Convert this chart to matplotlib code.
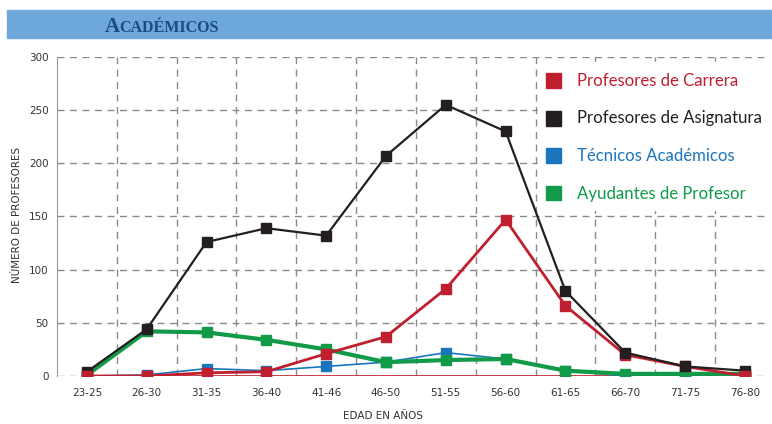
import numpy as np
import matplotlib.pyplot as plt
from matplotlib.patches import Rectangle

# datos
grupos = ["23-25", "26-30", "31-35", "36-40", "41-46", "46-50", "51-55",
          "56-60", "61-65", "66-70", "71-75", "76-80"]
carrera = [0, 0, 3, 4, 21, 37, 82, 147, 66, 20, 9, 0]
asignatura = [4, 44, 126, 139, 132, 207, 255, 230, 80, 22, 9, 5]
tecnicos = [0, 1, 7, 5, 9, 13, 22, 16, 5, 0, 0, 0]
ayudantes = [1, 42, 41, 34, 25, 13, 15, 16, 5, 2, 2, 2]

c_rojo = "#c01f2f"
c_negro = "#231f20"
c_azul = "#1a75bc"
c_verde = "#119a48"

fig = plt.figure(figsize=(7.72, 4.24), dpi=100)
ax = fig.add_axes([57/772, 48/424, (770-57)/772, (376-57)/424])

x = np.arange(len(grupos))

# linea roja en cero
ax.plot([0, 11], [0, 0], color=c_rojo, lw=1.2, zorder=2)

ax.plot(x, tecnicos, color=c_azul, lw=1.2, marker="s", ms=7, zorder=3)
ax.plot(x, ayudantes, color=c_verde, lw=3, marker="s", ms=7, zorder=4)
ax.plot(x, carrera, color=c_rojo, lw=2, marker="s", ms=7, zorder=5)
ax.plot(x, asignatura, color=c_negro, lw=1.6, marker="s", ms=7, zorder=6)
# el rojo encima en los extremos
ax.plot(x[[0, 1, 11]], np.array(carrera)[[0, 1, 11]], ls="none", marker="s", ms=7, color=c_rojo, zorder=7)

ax.set_xlim(-0.5, 11.42)
ax.set_ylim(0, 300)
ax.set_yticks(range(0, 301, 50))
ax.set_xticks(x)
ax.set_xticklabels(grupos)

for yy in range(0, 301, 50):
    ax.axhline(yy, color="#8a8a8a", lw=1, ls=(0, (5, 4)), zorder=1)
for xx in np.arange(0.5, 11, 1):
    ax.plot([xx, xx], [0, 300], color="#8a8a8a", lw=1, ls=(0, (5, 4)), zorder=1)

for s in ["top", "right", "bottom"]:
    ax.spines[s].set_visible(False)
ax.spines["left"].set_color("#9a9a9a")
ax.tick_params(axis="both", length=0, labelsize=7.5, colors="#333333")
ax.tick_params(axis="x", pad=9)
ax.tick_params(axis="y", pad=6)

fig.text(17/772, 1 - 215/424, "NÚMERO DE PROFESORES", rotation=90, ha="center", va="center",
         fontsize=7.5, color="#333333")
fig.text(383/772, 1 - 416/424, "EDAD EN AÑOS", ha="center", va="center",
         fontsize=7.5, color="#333333")

# leyenda con fondo blanco
fig.patches.append(Rectangle((538/772, 1 - 210/424), 234/772, 148/424, transform=fig.transFigure,
                             color="white", zorder=9))
etiquetas = ["Profesores de Carrera", "Profesores de Asignatura", "Técnicos Académicos", "Ayudantes de Profesor"]
colores = [c_rojo, c_negro, c_azul, c_verde]
for i, (et, col) in enumerate(zip(etiquetas, colores)):
    yy = 1 - (81 + i*37.5)/424
    fig.patches.append(Rectangle((546/772, yy - 7/424), 15/772, 15/424, transform=fig.transFigure,
                                 color=col, zorder=10))
    fig.text(577/772, yy, et, color=col, fontsize=12.1, family="Lato", va="center", ha="left", zorder=11)

# banda del titulo
fig.patches.append(Rectangle((7/772, 1 - 38/424), 765/772, 28/424, transform=fig.transFigure,
                             color="#6ea7da", zorder=0))
fig.text(105/772, 1 - 32/424, "A", fontsize=15, family="Liberation Serif", weight="bold",
         color="#1b4a86", va="baseline")
fig.text(119/772, 1 - 32/424, "CADÉMICOS", fontsize=11.5, family="Liberation Serif", weight="bold",
         color="#1b4a86", va="baseline")

fig.savefig("out.png", dpi=100)
